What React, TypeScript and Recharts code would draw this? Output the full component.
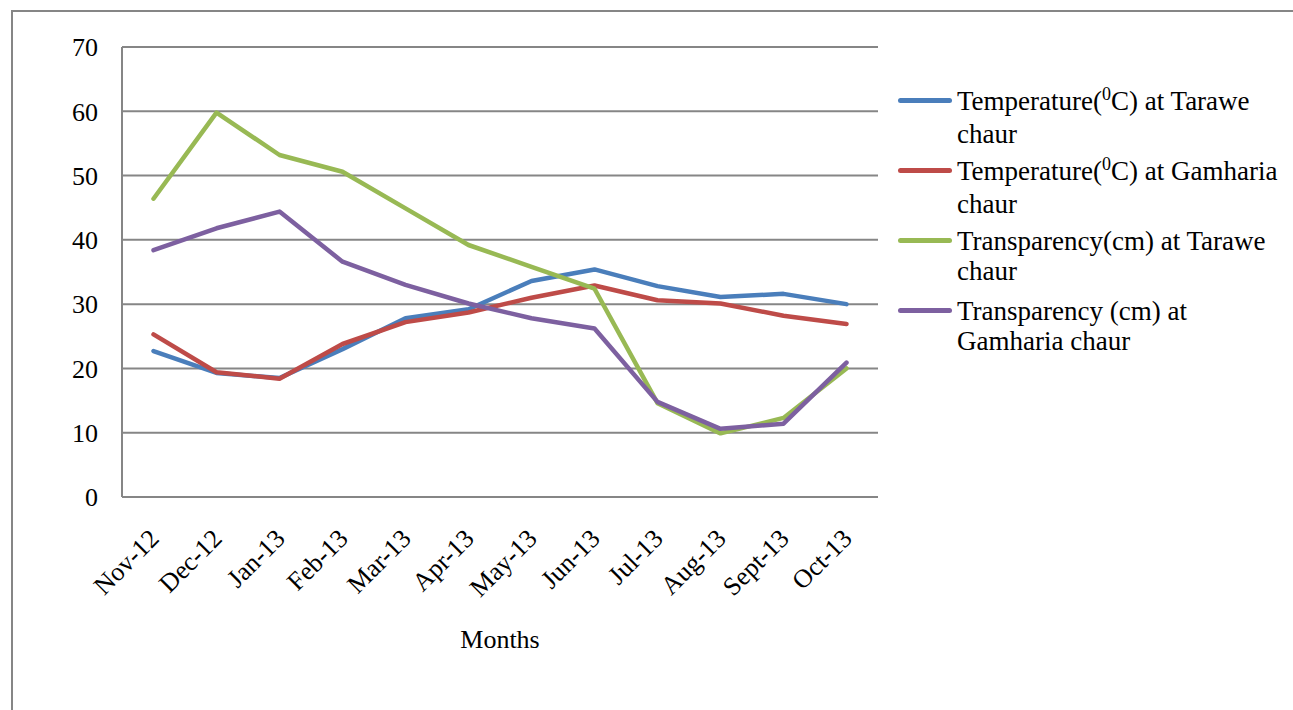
import React from "react";
import { LineChart, Line, XAxis, YAxis, CartesianGrid } from "recharts";

const months = ["Nov-12", "Dec-12", "Jan-13", "Feb-13", "Mar-13", "Apr-13", "May-13", "Jun-13", "Jul-13", "Aug-13", "Sept-13", "Oct-13"];

const tempTarawe = [22.7, 19.3, 18.5, 23.0, 27.8, 29.2, 33.6, 35.4, 32.8, 31.1, 31.6, 30.0];
const tempGamharia = [25.3, 19.4, 18.4, 23.8, 27.2, 28.7, 31.0, 32.9, 30.6, 30.1, 28.2, 26.9];
const transTarawe = [46.4, 59.8, 53.2, 50.6, 44.9, 39.2, 35.8, 32.4, 14.6, 9.9, 12.3, 20.0];
const transGamharia = [38.4, 41.8, 44.4, 36.6, 33.0, 30.1, 27.8, 26.2, 14.8, 10.6, 11.4, 20.9];

const yTicks = [0, 10, 20, 30, 40, 50, 60, 70];

const data = months.map((m, i) => ({
  month: m,
  tempTarawe: tempTarawe[i],
  tempGamharia: tempGamharia[i],
  transTarawe: transTarawe[i],
  transGamharia: transGamharia[i],
}));

const FONT = '"Liberation Serif", "Times New Roman", serif';
const GREY = "#868686";

const series = [
  { key: "tempTarawe", color: "#4A7EBB", label: ["Temperature(", "0", "C) at Tarawe"], second: "chaur" },
  { key: "tempGamharia", color: "#BE4B48", label: ["Temperature(", "0", "C) at Gamharia"], second: "chaur" },
  { key: "transTarawe", color: "#98B954", label: ["Transparency(cm) at Tarawe"], second: "chaur" },
  { key: "transGamharia", color: "#7D60A0", label: ["Transparency (cm) at"], second: "Gamharia chaur" },
];

const MonthTick = (props: any) => {
  const { x, y, payload } = props;
  const ax = x + 7;
  const ay = y + 43;
  return (
    <text
      x={ax}
      y={ay}
      textAnchor="end"
      transform={`rotate(-45, ${ax}, ${ay})`}
      fontFamily={FONT}
      fontSize={26}
      fill="#000"
    >
      {payload.value}
    </text>
  );
};

const MonthsLabel = (props: any) => {
  const { viewBox } = props;
  return (
    <text
      x={viewBox.x + viewBox.width / 2}
      y={viewBox.y + 151}
      textAnchor="middle"
      fontFamily={FONT}
      fontSize={26}
      fill="#000"
    >
      Months
    </text>
  );
};

// legend sits to the right of the plot, two text lines per entry
const LegendBox = () => (
  <div style={{ fontFamily: FONT, fontSize: 27, color: "#000" }}>
    {series.map((s) => (
      <div key={s.key} style={{ display: "flex", height: 70 }}>
        <div style={{ width: 54, height: 5, background: s.color, marginTop: 12, marginRight: 5, borderRadius: 3 }} />
        <div style={{ lineHeight: "30px", whiteSpace: "nowrap" }}>
          <div>
            {s.label.length === 3 ? (
              <>
                {s.label[0]}
                <span style={{ fontSize: 18, position: "relative", top: -10 }}>{s.label[1]}</span>
                {s.label[2]}
              </>
            ) : (
              s.label[0]
            )}
          </div>
          <div>{s.second}</div>
        </div>
      </div>
    ))}
  </div>
);

export default function App() {
  return (
    <div style={{ position: "fixed", left: 0, top: 0, width: 1293, height: 710, overflow: "hidden", background: "#fff" }}>
      <div
        style={{
          position: "absolute",
          left: 11,
          top: 10,
          width: 1400,
          height: 800,
          border: `2px solid ${GREY}`,
        }}
      />
      <div style={{ position: "absolute", left: 0, top: 0 }}>
        <LineChart
          width={1293}
          height={710}
          data={data}
          margin={{ top: 47, right: 415, bottom: 0, left: 0 }}
        >
          <CartesianGrid vertical={false} stroke={GREY} strokeWidth={2} />
          <XAxis
            dataKey="month"
            interval={0}
            padding={{ left: 31.5, right: 31.5 }}
            tickLine={false}
            tickSize={0}
            tickMargin={0}
            height={213}
            stroke={GREY}
            strokeWidth={2}
            tick={<MonthTick />}
            label={<MonthsLabel />}
          />
          <YAxis
            domain={[0, 70]}
            ticks={yTicks}
            interval={0}
            width={122}
            tickLine={false}
            tickSize={0}
            tickMargin={24}
            stroke={GREY}
            strokeWidth={2}
            tick={{ fontFamily: FONT, fontSize: 26, fill: "#000" }}
          />
          {series.map((s) => (
            <Line
              key={s.key}
              type="linear"
              dataKey={s.key}
              stroke={s.color}
              strokeWidth={4.5}
              strokeLinecap="round"
              strokeLinejoin="round"
              dot={false}
              activeDot={false}
              isAnimationActive={false}
            />
          ))}
        </LineChart>
      </div>
      <div style={{ position: "absolute", left: 898, top: 86 }}>
        <LegendBox />
      </div>
    </div>
  );
}
